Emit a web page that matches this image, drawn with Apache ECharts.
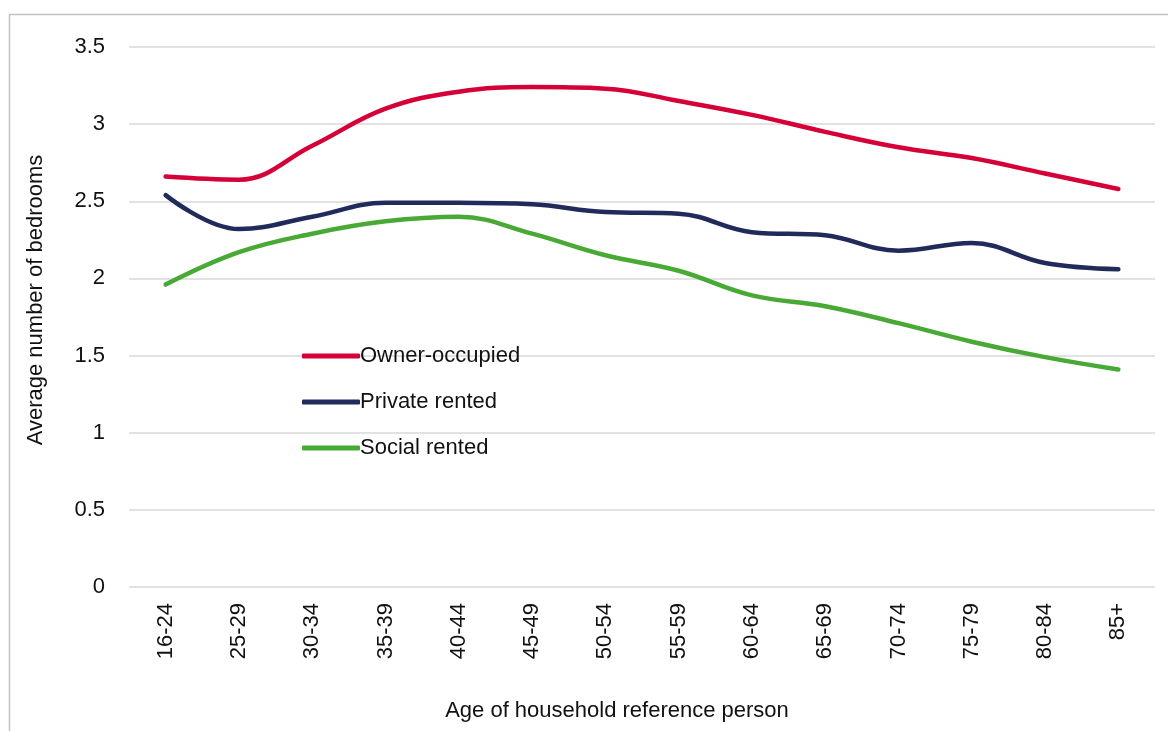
<!DOCTYPE html>
<html>
<head>
<meta charset="utf-8">
<script src="https://cdn.jsdelivr.net/npm/echarts@6/dist/echarts.min.js"></script>
<style>
  html, body { margin: 0; padding: 0; background: #fff; }
  #chart { width: 1168px; height: 731px; }
</style>
</head>
<body>
<div id="chart"></div>
<script>
// Age bands of the household reference person
const ageBands = ['16-24', '25-29', '30-34', '35-39', '40-44', '45-49', '50-54',
                  '55-59', '60-64', '65-69', '70-74', '75-79', '80-84', '85+'];

// Average number of bedrooms by tenure
const ownerOccupied = [2.66, 2.64, 2.86, 3.10, 3.21, 3.24, 3.23, 3.15, 3.06, 2.95, 2.85, 2.78, 2.68, 2.58];
const privateRented = [2.54, 2.32, 2.40, 2.49, 2.49, 2.48, 2.43, 2.42, 2.30, 2.28, 2.18, 2.23, 2.10, 2.06];
const socialRented  = [1.96, 2.17, 2.29, 2.37, 2.40, 2.29, 2.15, 2.05, 1.89, 1.82, 1.71, 1.59, 1.49, 1.41];

const seriesNames = ['Owner-occupied', 'Private rented', 'Social rented'];
const seriesColors = ['#d50037', '#212b5b', '#48a935'];

const FONT = '"Liberation Sans", Arial, sans-serif';
const FS = 22;

const chart = echarts.init(document.getElementById('chart'), null, { renderer: 'canvas' });

function lineSeries(name, data, color) {
  return {
    name: name,
    type: 'line',
    data: data,
    smooth: 0.4,
    symbol: 'none',
    lineStyle: { color: color, width: 4.5, cap: 'round', join: 'round' },
    itemStyle: { color: color },
    emphasis: { disabled: true }
  };
}

chart.setOption({
  animation: false,
  backgroundColor: '#ffffff',
  textStyle: { fontFamily: FONT },
  graphic: [{
    type: 'rect',
    shape: { x: 9.5, y: 14.5, width: 1300, height: 900 },
    style: { fill: 'none', stroke: '#c3c3c3', lineWidth: 1.5 },
    silent: true,
    z: -1
  }],
  grid: { left: 129, right: 13, top: 47, bottom: 144, containLabel: false },
  legend: {
    data: seriesNames,
    orient: 'vertical',
    left: 297,
    top: 335,
    icon: 'roundRect',
    itemWidth: 58,
    itemHeight: 5,
    itemGap: 14,
    textStyle: { fontFamily: FONT, fontSize: FS, color: '#111', padding: [0, 0, 0, -5], lineHeight: 32 }
  },
  xAxis: {
    type: 'category',
    data: ageBands,
    boundaryGap: true,
    name: 'Age of household reference person',
    nameLocation: 'middle',
    nameGap: 113,
    nameTextStyle: { fontFamily: FONT, fontSize: FS, color: '#111', padding: [0, 50, 0, 0] },
    axisLine: { show: false },
    axisTick: { show: false },
    axisLabel: { rotate: 90, margin: 16, fontFamily: FONT, fontSize: FS, color: '#111' },
    splitLine: { show: false }
  },
  yAxis: {
    type: 'value',
    min: 0,
    max: 3.5,
    interval: 0.5,
    name: 'Average number of bedrooms',
    nameLocation: 'middle',
    nameGap: 82,
    nameTextStyle: { fontFamily: FONT, fontSize: FS, color: '#111', padding: [0, 0, 0, 34] },
    axisLine: { show: false },
    axisTick: { show: false },
    axisLabel: { margin: 24, fontFamily: FONT, fontSize: FS, color: '#111' },
    splitLine: { show: true, lineStyle: { color: '#d9d9d9', width: 1.5 } }
  },
  series: [
    lineSeries(seriesNames[0], ownerOccupied, seriesColors[0]),
    lineSeries(seriesNames[1], privateRented, seriesColors[1]),
    lineSeries(seriesNames[2], socialRented, seriesColors[2])
  ]
});
</script>
</body>
</html>
